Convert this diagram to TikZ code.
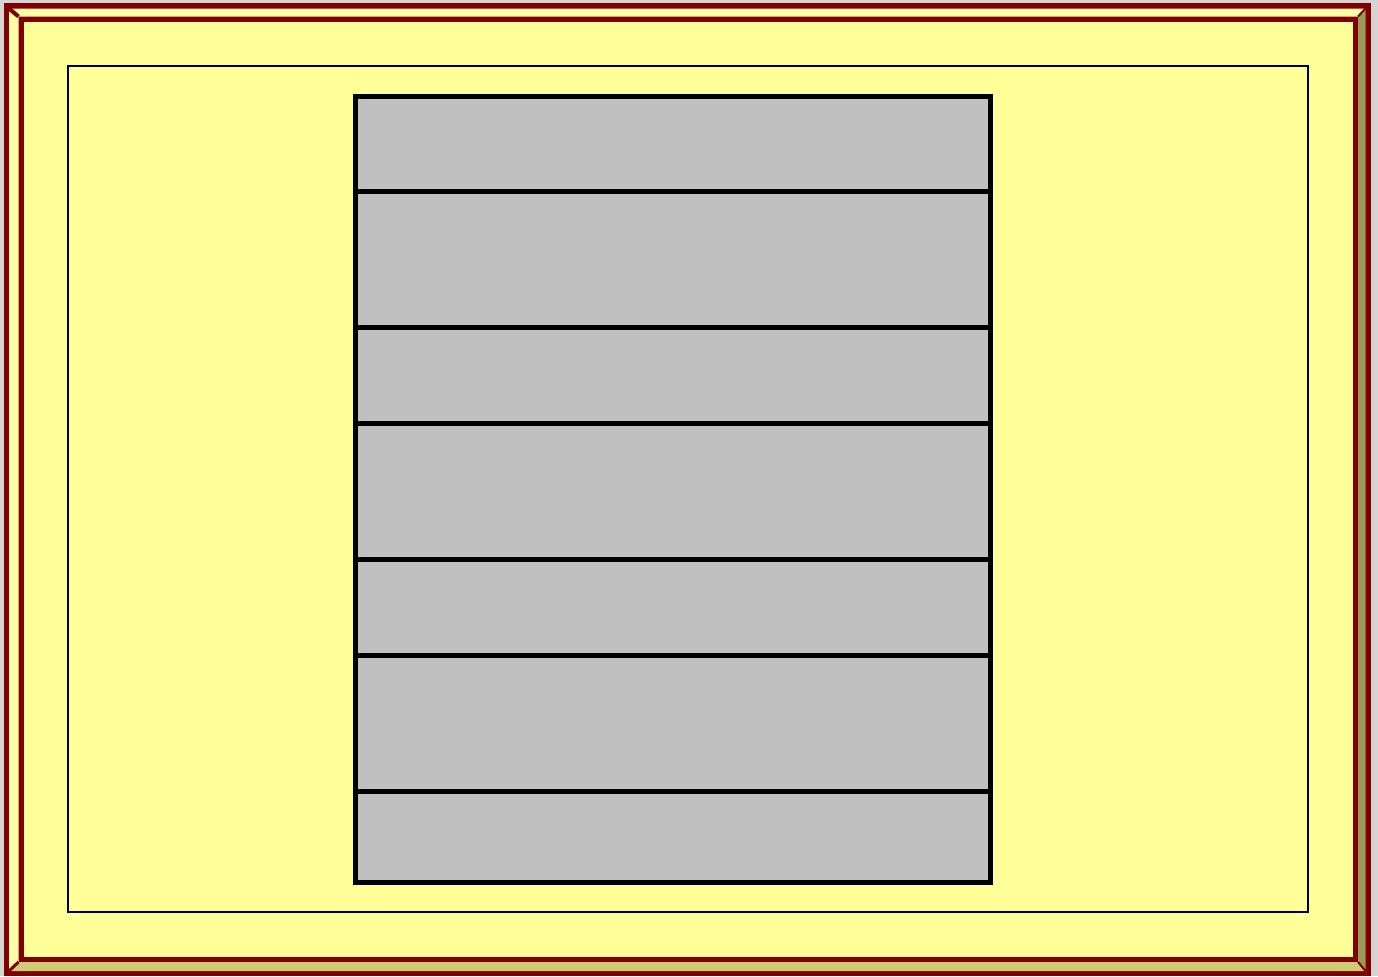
\documentclass[tikz,border=0pt]{standalone}
\usetikzlibrary{positioning}
\definecolor{framered}{HTML}{800000}
\definecolor{paper}{HTML}{FFFF99}
\definecolor{bevellight}{HTML}{FFFFAA}
\definecolor{beveldark}{HTML}{9A9A5A}
\definecolor{bevelmid}{HTML}{CCCC77}
\definecolor{window}{HTML}{D4D4D4}
\definecolor{cellgray}{HTML}{C0C0C0}

\begin{document}
\begin{tikzpicture}[
  x=0.5pt, y=-0.5pt,
  node distance=0pt,
  cell/.style={draw=black, fill=cellgray, rectangle, line width=2.8pt, outer sep=0pt, inner sep=0pt, minimum width=317.5pt},
  tall/.style={cell, minimum height=68pt},
  short/.style={cell, minimum height=48pt}
]
  \useasboundingbox (0,0) rectangle (1378,976);

  % Fenster und Rahmen
  \fill[window] (0,0) rectangle (1378,976);
  \fill[framered] (4,3) rectangle (1371,976);
  \fill[bevellight] (9,8.5) -- (1365.5,8.5) -- (1358,16.5) -- (18.5,16.5) -- cycle;
  \fill[bevellight] (9,8.5) -- (18.5,16.5) -- (18.5,962) -- (9,971) -- cycle;
  \fill[beveldark] (1365.5,8.5) -- (1365.5,971) -- (1358,962) -- (1358,16.5) -- cycle;
  \fill[bevelmid] (9,971) -- (1365.5,971) -- (1358,962) -- (18.5,962) -- cycle;
  \draw[framered, line width=2pt] (9,8.5) -- (18.5,16.5);
  \draw[framered, line width=1pt] (1365.5,8.5) -- (1358,16.5);
  \draw[framered, line width=1pt] (1365.5,971) -- (1358,962);
  \draw[framered, line width=1.5pt] (9,971) -- (18.5,962);
  \fill[framered] (18.5,16.5) rectangle (1358,962);
  \fill[paper] (24,22) rectangle (1352.5,956.5);

  % Innerer Rahmen
  \node[draw=black, line width=0.65pt, rectangle, inner sep=0pt, minimum width=620pt, minimum height=423pt] (panel) at (688,489) {};

  % Stapel der Felder
  \node[cell, minimum height=47.5pt, anchor=north] (cell1) at (672.9,96.3) {};
  \node[tall, below=of cell1] (cell2) {};
  \node[short, below=of cell2] (cell3) {};
  \node[tall, below=of cell3] (cell4) {};
  \node[short, below=of cell4] (cell5) {};
  \node[tall, below=of cell5] (cell6) {};
  \node[cell, minimum height=45.5pt, below=of cell6] (cell7) {};

\end{tikzpicture}
\end{document}
